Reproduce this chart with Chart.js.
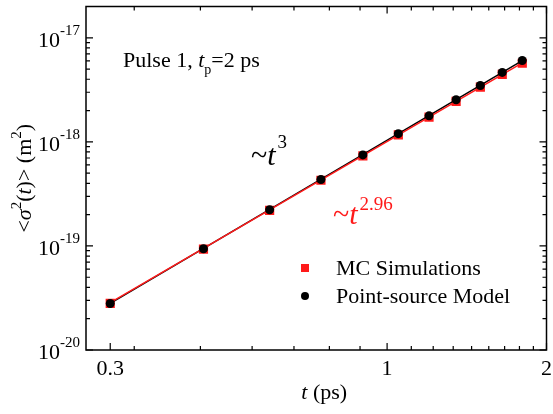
<!DOCTYPE html>
<html>
<head>
<meta charset="utf-8">
<script src="https://cdn.jsdelivr.net/npm/chart.js@4.4.1/dist/chart.umd.min.js"></script>
<style>
  body { margin: 0; background: #fff; }
  #wrap { width: 553px; height: 414px; }
</style>
</head>
<body>
<div id="wrap"><canvas id="myChart" width="553" height="414"></canvas></div>
<script>
// time points (ps)
var tValues = [0.3, 0.45, 0.6, 0.75, 0.9, 1.05, 1.2, 1.35, 1.5, 1.65, 1.8];
// <sigma^2(t)> (m^2)
var mcValues = [2.8e-20, 9.3e-20, 2.2e-19, 4.28e-19, 7.35e-19, 1.17e-18, 1.73e-18, 2.45e-18, 3.36e-18, 4.45e-18, 5.7e-18];
var modelValues = [2.8e-20, 9.4e-20, 2.23e-19, 4.35e-19, 7.5e-19, 1.2e-18, 1.78e-18, 2.54e-18, 3.48e-18, 4.65e-18, 6.05e-18];
// fitted lines (end points)
var fitT = [0.3, 1.8];
var fitMC = [2.85e-20, 5.75e-18];
var fitModel = [2.8e-20, 6.05e-18];

var xTickLabels = [0.3, 1, 2];
var xMinorTicks = [0.333, 0.444, 0.556, 0.667, 0.778, 0.889, 1.111, 1.222, 1.333, 1.444, 1.556, 1.667, 1.778, 1.889];
var yExponents = [-20, -19, -18, -17];
var yMinorMult = [2, 3, 4, 5, 6, 7, 8, 9];

var RED = '#ff1a1a';
var SERIF = '"Liberation Serif", "Times New Roman", serif';

function pts(xs, ys) {
  return xs.map(function (x, i) { return { x: x, y: ys[i] }; });
}

// draw a row of text pieces with different fonts / offsets
function drawRuns(ctx, runs, x, y, align) {
  var total = 0;
  runs.forEach(function (r) {
    ctx.font = r.font;
    r.w = ctx.measureText(r.text).width;
    total += r.w + (r.dx || 0);
  });
  var cx = align === 'center' ? x - total / 2 : (align === 'right' ? x - total : x);
  runs.forEach(function (r) {
    ctx.font = r.font;
    ctx.fillStyle = r.color || '#000';
    cx += r.dx || 0;
    ctx.fillText(r.text, cx, y + (r.dy || 0));
    cx += r.w;
  });
}

var frame = {
  id: 'frame',
  afterDraw: function (chart) {
    var ctx = chart.ctx;
    var a = chart.chartArea;
    var xs = chart.scales.x, ys = chart.scales.y;
    ctx.save();
    ctx.textBaseline = 'alphabetic';
    ctx.textAlign = 'left';

    // frame
    ctx.strokeStyle = '#000';
    ctx.lineWidth = 1.5;
    ctx.strokeRect(a.left, a.top, a.right - a.left, a.bottom - a.top);

    // inward ticks
    ctx.lineWidth = 1.2;
    ctx.beginPath();
    xTickLabels.forEach(function (v) {
      var px = xs.getPixelForValue(v);
      ctx.moveTo(px, a.bottom); ctx.lineTo(px, a.bottom - 7);
      if (v !== 0.3) { ctx.moveTo(px, a.top); ctx.lineTo(px, a.top + 7); }
    });
    xMinorTicks.forEach(function (v) {
      var px = xs.getPixelForValue(v);
      ctx.moveTo(px, a.bottom); ctx.lineTo(px, a.bottom - 4);
      ctx.moveTo(px, a.top); ctx.lineTo(px, a.top + 4);
    });
    yExponents.forEach(function (e) {
      var py = ys.getPixelForValue(Math.pow(10, e));
      ctx.moveTo(a.left, py); ctx.lineTo(a.left + 7, py);
      ctx.moveTo(a.right, py); ctx.lineTo(a.right - 7, py);
      yMinorMult.forEach(function (m) {
        var v = m * Math.pow(10, e);
        if (v > ys.max) return;
        var q = ys.getPixelForValue(v);
        ctx.moveTo(a.left, q); ctx.lineTo(a.left + 4, q);
        ctx.moveTo(a.right, q); ctx.lineTo(a.right - 4, q);
      });
    });
    ctx.stroke();

    // tick labels
    var big = '22px ' + SERIF, sup = '15px ' + SERIF;
    yExponents.forEach(function (e) {
      var py = ys.getPixelForValue(Math.pow(10, e));
      drawRuns(ctx, [
        { text: '10', font: big },
        { text: '-' + Math.abs(e), font: sup, dy: -12 }
      ], a.left - 6, py + 9, 'right');
    });
    xTickLabels.forEach(function (v) {
      var px = xs.getPixelForValue(v);
      drawRuns(ctx, [{ text: String(v), font: big }], px, a.bottom + 25, 'center');
    });

    // axis titles
    var it = 'italic 22px ' + SERIF;
    drawRuns(ctx, [
      { text: 't', font: it },
      { text: ' (ps)', font: big }
    ], (a.left + a.right) / 2 + 8, 399, 'center');

    ctx.save();
    ctx.translate(31, (a.top + a.bottom) / 2);
    ctx.rotate(-Math.PI / 2);
    drawRuns(ctx, [
      { text: '<', font: big },
      { text: 'σ', font: it },
      { text: '2', font: sup, dy: -10 },
      { text: '(', font: big },
      { text: 't', font: it },
      { text: ')> (m', font: big },
      { text: '2', font: sup, dy: -10 },
      { text: ')', font: big }
    ], 0, 0, 'center');
    ctx.restore();

    // annotations
    drawRuns(ctx, [
      { text: 'Pulse 1, ', font: big },
      { text: 't', font: it },
      { text: 'p', font: '14px ' + SERIF, dy: 7 },
      { text: '=2 ps', font: big }
    ], 123, 67, 'left');

    var ann = 'italic 30px ' + SERIF, annUp = '30px ' + SERIF, annSup = '19px ' + SERIF;
    drawRuns(ctx, [
      { text: '~', font: annUp },
      { text: 't', font: ann },
      { text: '3', font: annSup, dy: -17, dx: 2 }
    ], 251, 165, 'left');
    drawRuns(ctx, [
      { text: '~', font: annUp, color: RED },
      { text: 't', font: ann, color: RED },
      { text: '2.96', font: annSup, dy: -14, dx: 2, color: RED }
    ], 333, 224, 'left');

    // legend
    ctx.fillStyle = RED;
    ctx.fillRect(301, 264, 8, 8);
    ctx.fillStyle = '#000';
    ctx.beginPath();
    ctx.arc(305, 296, 4, 0, Math.PI * 2);
    ctx.fill();
    drawRuns(ctx, [{ text: 'MC Simulations', font: big }], 336, 275, 'left');
    drawRuns(ctx, [{ text: 'Point-source Model', font: big }], 336, 303, 'left');

    ctx.restore();
  }
};

new Chart(document.getElementById('myChart'), {
  type: 'scatter',
  data: {
    datasets: [
      {
        label: 'Point-source Model',
        data: pts(tValues, modelValues),
        pointStyle: 'circle',
        pointRadius: 4.5,
        backgroundColor: '#000',
        borderColor: '#000',
        borderWidth: 0,
        order: 0
      },
      {
        label: 'fit MC',
        data: pts(fitT, fitMC),
        showLine: true,
        pointRadius: 0,
        borderColor: RED,
        borderWidth: 1.5,
        order: 1
      },
      {
        label: 'fit model',
        data: pts(fitT, fitModel),
        showLine: true,
        pointRadius: 0,
        borderColor: '#000',
        borderWidth: 1.5,
        order: 2
      },
      {
        label: 'MC Simulations',
        data: pts(tValues, mcValues),
        pointStyle: 'rect',
        pointRadius: 6.5,
        backgroundColor: RED,
        borderColor: RED,
        borderWidth: 0,
        order: 3
      }
    ]
  },
  options: {
    responsive: false,
    animation: false,
    devicePixelRatio: 1,
    layout: { padding: { left: 86, top: 5, right: 4, bottom: 64 } },
    plugins: {
      legend: { display: false },
      tooltip: { enabled: false }
    },
    scales: {
      x: { type: 'logarithmic', min: 0.27, max: 2, display: false },
      y: { type: 'logarithmic', min: 1e-20, max: 2e-17, display: false }
    }
  },
  plugins: [frame]
});
</script>
</body>
</html>
